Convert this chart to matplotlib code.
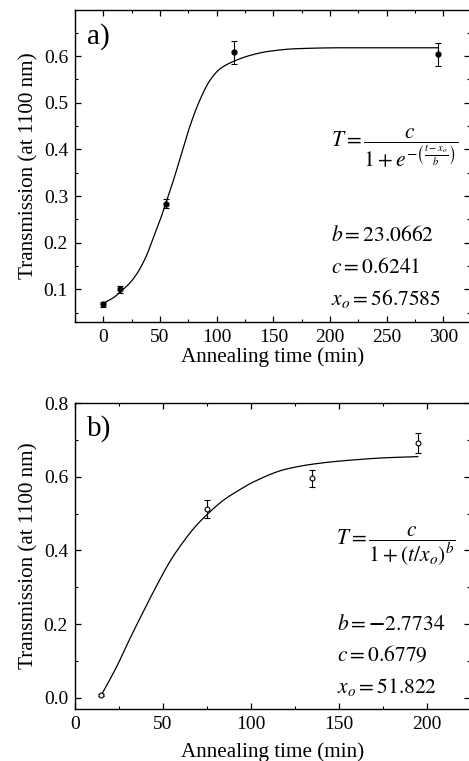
import numpy as np
import matplotlib
matplotlib.use("Agg")
import matplotlib.pyplot as plt
from matplotlib.ticker import MultipleLocator

plt.rcParams['font.family'] = ['Liberation Serif', 'DejaVu Serif']
plt.rcParams['mathtext.fontset'] = 'stix'

# ---- panel a data ----
a_time = [0, 15, 55, 115, 295]
a_trans = [0.068, 0.100, 0.284, 0.608, 0.604]
a_err = [0.005, 0.008, 0.010, 0.025, 0.025]
a_fit_t = [0, 10, 16, 22, 30, 38, 44, 50, 55, 62, 69, 76, 85, 94, 103, 115,
           130, 145, 170, 210, 295]
a_fit_y = [0.070, 0.084, 0.097, 0.110, 0.135, 0.172, 0.210, 0.248, 0.284,
           0.335, 0.391, 0.447, 0.505, 0.548, 0.573, 0.589, 0.602, 0.610,
           0.616, 0.618, 0.618]

# ---- panel b data ----
b_time = [15, 75, 135, 195]
b_trans = [0.007, 0.512, 0.596, 0.692]
b_err = [0.004, 0.024, 0.023, 0.027]
b_fit_t = [15, 24, 31, 39, 46.5, 54, 62, 69, 75, 84, 94, 101, 120, 139, 158,
           177, 195]
b_fit_y = [0.007, 0.087, 0.158, 0.235, 0.305, 0.370, 0.426, 0.468, 0.497,
           0.535, 0.566, 0.585, 0.621, 0.637, 0.646, 0.652, 0.655]


def smooth_path(xs, ys, n=400):
    """Monotone cubic Hermite rendering of the read fit-curve points."""
    x = np.asarray(xs, float)
    y = np.asarray(ys, float)
    h = np.diff(x)
    d = np.diff(y) / h
    m = np.zeros_like(y)
    m[0], m[-1] = d[0], d[-1]
    for i in range(1, len(x) - 1):
        if d[i - 1] * d[i] <= 0:
            m[i] = 0.0
        else:
            w1 = 2 * h[i] + h[i - 1]
            w2 = h[i] + 2 * h[i - 1]
            m[i] = (w1 + w2) / (w1 / d[i - 1] + w2 / d[i])
    xx = np.linspace(x[0], x[-1], n)
    idx = np.clip(np.searchsorted(x, xx) - 1, 0, len(x) - 2)
    t = (xx - x[idx]) / h[idx]
    h00 = 2 * t**3 - 3 * t**2 + 1
    h10 = t**3 - 2 * t**2 + t
    h01 = -2 * t**3 + 3 * t**2
    h11 = t**3 - t**2
    yy = (h00 * y[idx] + h10 * h[idx] * m[idx] + h01 * y[idx + 1]
          + h11 * h[idx] * m[idx + 1])
    return xx, yy


W, H = 469, 761
fig = plt.figure(figsize=(W / 100, H / 100), dpi=100)


def style(ax):
    for s in ax.spines.values():
        s.set_linewidth(1.0)
    ax.tick_params(which='both', direction='in', top=True, right=True,
                   labelsize=14, pad=5)
    ax.tick_params(which='major', length=4.5, width=0.9)
    ax.tick_params(which='minor', length=2.5, width=0.8)


# Panel a
axa = fig.add_axes([75 / W, 1 - 322 / H, (470 - 75) / W, (322 - 10) / H])
axa.plot(*smooth_path(a_fit_t, a_fit_y), color='black', lw=0.9)
axa.errorbar(a_time, a_trans, yerr=a_err, fmt='o', color='black', ms=3.5,
             capsize=2.5, elinewidth=0.8, capthick=0.8)
axa.set_xlim(-25, 323.5)
axa.set_ylim(0.03, 0.699)
axa.xaxis.set_major_locator(MultipleLocator(50))
axa.xaxis.set_minor_locator(MultipleLocator(25))
axa.yaxis.set_minor_locator(MultipleLocator(0.05))
axa.set_yticks([0.1, 0.2, 0.3, 0.4, 0.5, 0.6])
axa.set_xlabel('Annealing time (min)', fontsize=15.2, labelpad=1)
axa.set_ylabel('Transmission (at 1100 nm)', fontsize=15.2, labelpad=4)
style(axa)


def fig_text(x, y, s, size, ha='left'):
    fig.text(x / W, 1 - y / H, s, fontsize=size, ha=ha, va='center')


fig_text(87, 37, 'a)', 21)
fig_text(331, 148, r'$T=\dfrac{c}{1+e^{-\left(\frac{t-x_o}{b}\right)}}$', 15.5)
fig_text(331, 236, r'$b=23.0662$', 15.5)
fig_text(331, 268, r'$c=0.6241$', 15.5)
fig_text(331, 299, r'$x_o=56.7585$', 15.5)

# Panel b
axb = fig.add_axes([75 / W, 1 - 709 / H, (470 - 75) / W, (709 - 403.3) / H])
axb.plot(*smooth_path(b_fit_t, b_fit_y), color='black', lw=0.9)
axb.errorbar(b_time, b_trans, yerr=b_err, fmt='o', color='black', mfc='white',
             ms=3.5, capsize=2.5, elinewidth=0.8, capthick=0.8, mew=0.8)
axb.set_xlim(0, 224.7)
axb.set_ylim(-0.031, 0.8)
axb.xaxis.set_major_locator(MultipleLocator(50))
axb.xaxis.set_minor_locator(MultipleLocator(25))
axb.yaxis.set_major_locator(MultipleLocator(0.2))
axb.yaxis.set_minor_locator(MultipleLocator(0.1))
axb.set_xlabel('Annealing time (min)', fontsize=15.2, labelpad=7)
axb.set_ylabel('Transmission (at 1100 nm)', fontsize=15.2, labelpad=4)
style(axb)

fig_text(87, 429, 'b)', 21)
fig_text(336, 546, r'$T=\dfrac{c}{1+\left(t/x_o\right)^b}$', 15.5)
fig_text(337, 625, r'$b=\mathbf{-}2.7734$', 15.5)
fig_text(337, 656, r'$c=0.6779$', 15.5)
fig_text(337, 687, r'$x_o=51.822$', 15.5)

fig.savefig('out.png', dpi=100)
